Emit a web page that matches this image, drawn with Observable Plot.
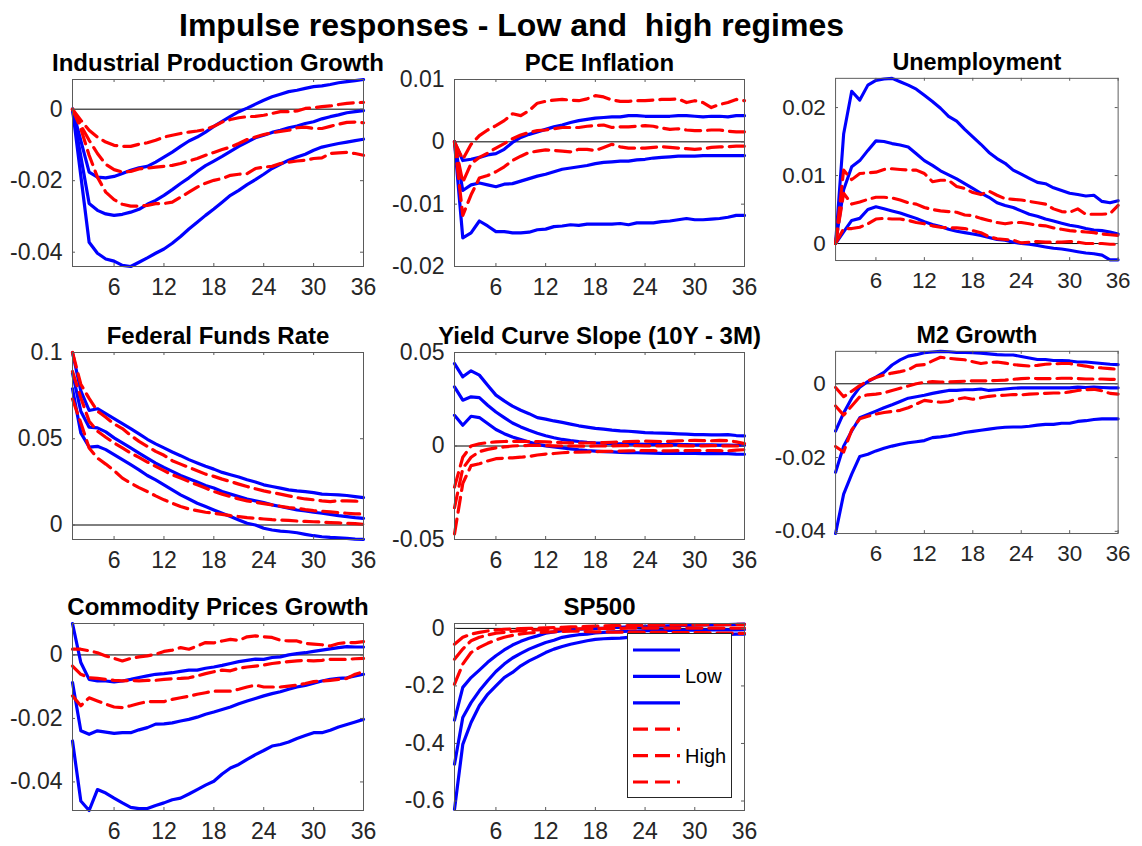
<!DOCTYPE html>
<html>
<head>
<meta charset="utf-8">
<script src="https://cdn.jsdelivr.net/npm/d3@7"></script>
<script src="https://cdn.jsdelivr.net/npm/@observablehq/plot@0.6"></script>
<style>
  html, body { margin: 0; padding: 0; background: #fff; }
  #fig { position: relative; width: 1142px; height: 846px; background: #fff; overflow: hidden;
         font-family: "Liberation Sans", Arial, Helvetica, sans-serif; }
  #title { position: absolute; left: 0; top: 9px; width: 1023px; text-align: center;
           font-weight: bold; font-size: 32px; line-height: 32px; white-space: pre; color: #000; }
  .panel { position: absolute; }
  .panel svg { overflow: visible; }
  #legend { position: absolute; }
</style>
</head>
<body>
<div id="fig"><div id="title">Impulse responses - Low and  high regimes</div></div>
<script>
// Horizon ticks (months after the shock)
const horizonTicks = [6, 12, 18, 24, 30, 36];

// Panel titles
const panelTitles = [
  "Industrial Production Growth", "PCE Inflation", "Unemployment",
  "Federal Funds Rate", "Yield Curve Slope (10Y - 3M)", "M2 Growth",
  "Commodity Prices Growth", "SP500"
];

// Axis limits and tick values per panel
const ipLimits = [-0.044, 0.0083],   ipTicks = [-0.04, -0.02, 0];
const pceLimits = [-0.02, 0.01],     pceTicks = [-0.02, -0.01, 0, 0.01];
const unLimits = [-0.0025, 0.0243],  unTicks = [0, 0.01, 0.02];
const ffrLimits = [-0.0084, 0.1],    ffrTicks = [0, 0.05, 0.1];
const ycLimits = [-0.05, 0.05],      ycTicks = [-0.05, 0, 0.05];
const m2Limits = [-0.0406, 0.0088],  m2Ticks = [-0.04, -0.02, 0];
const cpLimits = [-0.049, 0.0099],   cpTicks = [-0.04, -0.02, 0];
const spLimits = [-0.633, 0.017],    spTicks = [-0.6, -0.4, -0.2, 0];

// Industrial production growth
const ipLowUpper = [0, -0.0088, -0.0176, -0.019, -0.0192, -0.0188, -0.018, -0.0171, -0.0164, -0.016, -0.0148, -0.0134, -0.012, -0.0104, -0.0089, -0.0078, -0.0064, -0.0048, -0.0034, -0.002, -0.0007, 0.0003, 0.0014, 0.0025, 0.0035, 0.0042, 0.0049, 0.0053, 0.0058, 0.0063, 0.0065, 0.0069, 0.0074, 0.0077, 0.008, 0.0083];
const ipLowMid = [0, -0.0132, -0.0264, -0.0283, -0.0293, -0.0297, -0.0294, -0.0288, -0.028, -0.0266, -0.0255, -0.0241, -0.0225, -0.0208, -0.0192, -0.0174, -0.0158, -0.0145, -0.0132, -0.0118, -0.0104, -0.0092, -0.008, -0.0073, -0.0065, -0.0059, -0.0052, -0.0047, -0.004, -0.0035, -0.0027, -0.0021, -0.0016, -0.001, -0.0007, -0.0004];
const ipLowLower = [0, -0.0186, -0.0372, -0.0403, -0.0419, -0.0425, -0.0437, -0.044, -0.0428, -0.0416, -0.0403, -0.0391, -0.0375, -0.0356, -0.0335, -0.0316, -0.0297, -0.0279, -0.026, -0.0241, -0.0227, -0.0211, -0.0197, -0.0182, -0.0166, -0.0154, -0.0143, -0.0134, -0.0126, -0.0115, -0.0106, -0.0101, -0.0096, -0.0092, -0.0088, -0.0084];
const ipHighUpper = [0, -0.0031, -0.0059, -0.0078, -0.0092, -0.0101, -0.0104, -0.0104, -0.0098, -0.0094, -0.0087, -0.0078, -0.0073, -0.0068, -0.0064, -0.0061, -0.0057, -0.0048, -0.0036, -0.0029, -0.0024, -0.0021, -0.002, -0.0017, -0.0012, -0.0007, -0.0007, -0.0005, 0.0002, 0.0004, 0.0007, 0.0009, 0.0013, 0.0016, 0.0018, 0.0019];
const ipHighMid = [0, -0.0045, -0.0087, -0.0124, -0.0154, -0.0169, -0.0176, -0.0174, -0.0167, -0.0165, -0.0162, -0.016, -0.0157, -0.0152, -0.0145, -0.0138, -0.0129, -0.0121, -0.0113, -0.0106, -0.0096, -0.0085, -0.0078, -0.0071, -0.0066, -0.0062, -0.0059, -0.0052, -0.005, -0.0054, -0.0054, -0.0048, -0.0042, -0.0037, -0.0036, -0.0038];
const ipHighLower = [0, -0.0054, -0.0129, -0.019, -0.0232, -0.0253, -0.0266, -0.0271, -0.0271, -0.0269, -0.0264, -0.0264, -0.026, -0.0246, -0.0232, -0.0218, -0.0207, -0.0199, -0.0194, -0.0185, -0.0182, -0.018, -0.0166, -0.0162, -0.016, -0.0152, -0.0148, -0.0145, -0.0143, -0.0138, -0.0136, -0.0124, -0.0122, -0.0121, -0.0124, -0.0129];

// PCE inflation
const pceLowUpper = [0, -0.003, -0.0028, -0.0025, -0.0021, -0.0019, -0.0012, -0.0001, 0.0007, 0.0012, 0.0016, 0.002, 0.0024, 0.0027, 0.0031, 0.0034, 0.0036, 0.0038, 0.0039, 0.004, 0.004, 0.0042, 0.0042, 0.0041, 0.0041, 0.0041, 0.0041, 0.0042, 0.0042, 0.0041, 0.004, 0.0041, 0.0041, 0.004, 0.0042, 0.0042];
const pceLowMid = [0, -0.0078, -0.0069, -0.0066, -0.0069, -0.0072, -0.0068, -0.0067, -0.0063, -0.0059, -0.0055, -0.0052, -0.0048, -0.0044, -0.0042, -0.004, -0.0038, -0.0035, -0.0033, -0.0032, -0.0031, -0.0031, -0.0029, -0.0028, -0.0026, -0.0025, -0.0024, -0.0023, -0.0023, -0.0023, -0.0022, -0.0022, -0.0022, -0.0022, -0.0022, -0.0022];
const pceLowLower = [0, -0.0154, -0.0146, -0.0127, -0.0135, -0.0144, -0.0144, -0.0146, -0.0146, -0.0145, -0.0141, -0.014, -0.0136, -0.0135, -0.0133, -0.0134, -0.0132, -0.0132, -0.0132, -0.0132, -0.0131, -0.0133, -0.013, -0.013, -0.013, -0.0128, -0.0127, -0.0125, -0.0123, -0.0125, -0.0125, -0.0124, -0.0123, -0.0121, -0.0118, -0.0118];
const pceHighUpper = [0, -0.0028, -0.0004, 0.001, 0.0019, 0.0026, 0.0034, 0.0045, 0.0042, 0.005, 0.0062, 0.0065, 0.0067, 0.0068, 0.0067, 0.0066, 0.0069, 0.0074, 0.0072, 0.0067, 0.0065, 0.0065, 0.0066, 0.0066, 0.0067, 0.0068, 0.0068, 0.0069, 0.0063, 0.0066, 0.0063, 0.0055, 0.006, 0.0063, 0.0068, 0.0066];
const pceHighMid = [0, -0.0065, -0.0035, -0.0025, -0.0018, -0.001, -0.0003, 0.0005, 0.0011, 0.0015, 0.0018, 0.0019, 0.0021, 0.0023, 0.0023, 0.0023, 0.0025, 0.0026, 0.0027, 0.0023, 0.0024, 0.0024, 0.0025, 0.0026, 0.0025, 0.0022, 0.002, 0.0021, 0.0019, 0.0018, 0.0018, 0.0019, 0.0019, 0.0017, 0.0016, 0.0016];
const pceHighLower = [0, -0.0118, -0.0085, -0.0058, -0.0054, -0.0048, -0.004, -0.003, -0.0023, -0.0017, -0.0015, -0.0013, -0.0014, -0.0015, -0.0016, -0.0012, -0.0012, -0.0014, -0.0009, -0.0004, -0.0008, -0.001, -0.001, -0.001, -0.0009, -0.0008, -0.0009, -0.001, -0.0011, -0.0012, -0.0011, -0.0009, -0.0008, -0.0008, -0.0007, -0.0007];

// Unemployment
const unLowUpper = [0, 0.0161, 0.0224, 0.0211, 0.0233, 0.024, 0.0242, 0.0243, 0.0238, 0.0233, 0.0227, 0.0218, 0.0209, 0.0199, 0.0187, 0.018, 0.0168, 0.0157, 0.0146, 0.0134, 0.0125, 0.0118, 0.0108, 0.0102, 0.0096, 0.009, 0.0088, 0.0082, 0.0078, 0.0074, 0.0072, 0.007, 0.0071, 0.0062, 0.006, 0.0063];
const unLowMid = [0, 0.0079, 0.0113, 0.0122, 0.0137, 0.0151, 0.015, 0.0147, 0.0145, 0.0142, 0.0132, 0.0122, 0.0115, 0.0107, 0.0101, 0.0095, 0.0088, 0.0081, 0.0074, 0.0068, 0.006, 0.0056, 0.0053, 0.0048, 0.0043, 0.004, 0.0036, 0.0033, 0.003, 0.0027, 0.0025, 0.0022, 0.002, 0.0019, 0.0017, 0.0014];
const unLowLower = [0, 0.0017, 0.0034, 0.0037, 0.005, 0.0054, 0.0051, 0.0048, 0.0045, 0.0041, 0.0037, 0.0032, 0.0028, 0.0025, 0.0021, 0.0018, 0.0016, 0.0014, 0.0012, 0.0009, 0.0006, 0.0005, 0.0002, 0, -0.0001, -0.0003, -0.0005, -0.0007, -0.0008, -0.001, -0.0012, -0.0014, -0.0015, -0.0017, -0.0024, -0.0024];
const unHighUpper = [0, 0.0108, 0.0094, 0.0103, 0.0104, 0.0105, 0.0109, 0.011, 0.0109, 0.0108, 0.0108, 0.0103, 0.0091, 0.0093, 0.0093, 0.0084, 0.0081, 0.0075, 0.0072, 0.0077, 0.0071, 0.0066, 0.0065, 0.0064, 0.0062, 0.006, 0.0058, 0.0051, 0.0047, 0.0046, 0.0051, 0.0043, 0.0043, 0.0043, 0.0044, 0.0056];
const unHighMid = [0, 0.0074, 0.0058, 0.0061, 0.0065, 0.0068, 0.0068, 0.0067, 0.0064, 0.006, 0.0058, 0.0053, 0.005, 0.0048, 0.0047, 0.0046, 0.0042, 0.0041, 0.0037, 0.0034, 0.0031, 0.0029, 0.0031, 0.0031, 0.0029, 0.0027, 0.0026, 0.0023, 0.0021, 0.0019, 0.0018, 0.0017, 0.0016, 0.0014, 0.0013, 0.0012];
const unHighLower = [0, 0.0022, 0.0022, 0.0024, 0.0029, 0.0036, 0.0037, 0.0036, 0.0036, 0.0034, 0.0031, 0.0029, 0.0026, 0.0024, 0.0023, 0.0023, 0.0022, 0.0019, 0.0016, 0.001, 0.0007, 0.0006, 0.0005, 0.0001, 0.0002, 0.0003, 0.0002, 0.0002, 0.0002, 0.0003, 0.0002, 0, 0, 0, -0.0001, -0.0001];

// Federal funds rate
const ffrLowUpper = [0.1, 0.0777, 0.0664, 0.0674, 0.0645, 0.0617, 0.0588, 0.0559, 0.0528, 0.0497, 0.047, 0.0447, 0.0423, 0.0402, 0.0379, 0.0359, 0.034, 0.0324, 0.0305, 0.0291, 0.0278, 0.0262, 0.0249, 0.0233, 0.0223, 0.0214, 0.0204, 0.0198, 0.0194, 0.0188, 0.0179, 0.0177, 0.0175, 0.0171, 0.0165, 0.0159];
const ffrLowMid = [0.088, 0.066, 0.0567, 0.0563, 0.054, 0.0505, 0.0476, 0.0447, 0.0417, 0.0388, 0.0359, 0.0334, 0.0311, 0.0287, 0.0268, 0.0249, 0.0229, 0.0214, 0.0194, 0.0179, 0.0165, 0.0151, 0.014, 0.013, 0.0117, 0.0107, 0.0097, 0.0087, 0.0082, 0.0074, 0.0068, 0.0062, 0.0054, 0.0049, 0.0043, 0.0039];
const ffrLowLower = [0.079, 0.0534, 0.0452, 0.0456, 0.0437, 0.0408, 0.0379, 0.035, 0.032, 0.0287, 0.0262, 0.0233, 0.0204, 0.0175, 0.0151, 0.0126, 0.0107, 0.0087, 0.0068, 0.0049, 0.0029, 0.001, 0, -0.0019, -0.0029, -0.0035, -0.0039, -0.0045, -0.0054, -0.0062, -0.0068, -0.0072, -0.0074, -0.0078, -0.0082, -0.0083];
const ffrHighUpper = [0.1, 0.0816, 0.0734, 0.066, 0.0625, 0.0586, 0.0559, 0.052, 0.0485, 0.0456, 0.0427, 0.0404, 0.0373, 0.0353, 0.0334, 0.0315, 0.0295, 0.0282, 0.0266, 0.0252, 0.0237, 0.0223, 0.021, 0.0198, 0.0188, 0.0179, 0.0169, 0.0159, 0.0151, 0.0146, 0.014, 0.0136, 0.014, 0.014, 0.0138, 0.0136];
const ffrHighMid = [0.089, 0.0738, 0.0602, 0.0544, 0.0509, 0.0476, 0.0447, 0.0417, 0.0392, 0.0365, 0.034, 0.0315, 0.0291, 0.0272, 0.0252, 0.0233, 0.0214, 0.0194, 0.0179, 0.0165, 0.0151, 0.014, 0.0132, 0.0124, 0.0117, 0.0109, 0.0101, 0.0097, 0.0089, 0.0083, 0.008, 0.0076, 0.0072, 0.0068, 0.0064, 0.0064];
const ffrHighLower = [0.073, 0.0592, 0.0447, 0.0388, 0.0353, 0.0315, 0.0272, 0.0243, 0.0217, 0.0194, 0.0169, 0.0146, 0.0126, 0.0107, 0.0093, 0.0083, 0.0074, 0.0068, 0.0062, 0.0054, 0.0049, 0.0043, 0.0039, 0.0035, 0.0031, 0.0029, 0.0027, 0.0023, 0.0021, 0.0019, 0.0017, 0.0014, 0.0012, 0.001, 0.0008, 0.0004];

// Yield curve slope (10Y - 3M)
const ycLowUpper = [0.0441, 0.037, 0.0402, 0.0379, 0.0325, 0.0272, 0.0241, 0.0213, 0.0191, 0.0173, 0.0152, 0.0144, 0.0134, 0.0126, 0.0117, 0.0108, 0.0101, 0.0094, 0.009, 0.0085, 0.0081, 0.0079, 0.0076, 0.0072, 0.007, 0.0069, 0.0067, 0.0065, 0.0063, 0.0061, 0.0061, 0.006, 0.006, 0.0061, 0.0056, 0.0054];
const ycLowMid = [0.0316, 0.0245, 0.0263, 0.0259, 0.0218, 0.0182, 0.0152, 0.0123, 0.0102, 0.0084, 0.0068, 0.0055, 0.0044, 0.0035, 0.0029, 0.0024, 0.002, 0.0017, 0.0015, 0.0013, 0.0012, 0.0011, 0.001, 0.0009, 0.0008, 0.0008, 0.0007, 0.0007, 0.0007, 0.0006, 0.0006, 0.0006, 0.0005, 0.0005, 0.0004, 0.0004];
const ycLowLower = [0.0164, 0.0111, 0.0159, 0.0152, 0.012, 0.0088, 0.0066, 0.0048, 0.0034, 0.0021, 0.0009, 0.0001, -0.0005, -0.001, -0.0015, -0.002, -0.0024, -0.0027, -0.003, -0.0031, -0.0034, -0.0035, -0.0036, -0.0037, -0.0038, -0.0039, -0.0038, -0.0039, -0.004, -0.004, -0.0041, -0.0041, -0.0041, -0.0041, -0.0043, -0.0044];
const ycHighUpper = [-0.022, -0.006, 0, 0.0012, 0.0018, 0.0022, 0.0024, 0.0025, 0.0025, 0.0024, 0.0023, 0.0022, 0.002, 0.0018, 0.0017, 0.0016, 0.0016, 0.0017, 0.0018, 0.002, 0.0022, 0.0024, 0.0025, 0.0026, 0.0025, 0.0024, 0.0025, 0.0027, 0.0029, 0.003, 0.0029, 0.0028, 0.003, 0.0029, 0.0022, 0.0013];
const ycHighMid = [-0.033, -0.012, -0.006, -0.003, -0.0018, -0.001, -0.0005, 0, 0.0002, 0.0003, 0.0003, 0.0002, 0.0001, 0, 0, -0.0001, -0.0001, 0, 0.0001, 0.0001, 0.0002, 0.0002, 0.0002, 0.0001, 0.0001, 0.0001, 0.0002, 0.0002, 0.0001, 0.0001, 0.0001, 0.0002, 0.0001, 0.0001, 0, 0];
const ycHighLower = [-0.047, -0.02, -0.0105, -0.0095, -0.008, -0.0068, -0.0065, -0.0063, -0.006, -0.0056, -0.0048, -0.0043, -0.004, -0.0036, -0.0034, -0.0033, -0.0032, -0.003, -0.0029, -0.0028, -0.0027, -0.0026, -0.0025, -0.0025, -0.0025, -0.0026, -0.0026, -0.0025, -0.0025, -0.0024, -0.0024, -0.0024, -0.0025, -0.0026, -0.0022, -0.002];

// M2 growth
const m2LowUpper = [-0.0128, -0.0079, -0.0039, -0.0009, 0.0006, 0.0018, 0.0031, 0.0051, 0.0065, 0.0075, 0.0079, 0.0084, 0.0086, 0.0088, 0.0087, 0.0085, 0.0085, 0.0084, 0.0083, 0.0081, 0.0079, 0.0078, 0.0078, 0.0074, 0.007, 0.0066, 0.0066, 0.0063, 0.0063, 0.0062, 0.0059, 0.0059, 0.0057, 0.0055, 0.0053, 0.0052];
const m2LowMid = [-0.024, -0.0169, -0.0128, -0.0092, -0.0083, -0.0074, -0.0065, -0.0057, -0.0048, -0.0039, -0.0035, -0.0031, -0.0026, -0.0022, -0.0018, -0.0018, -0.0016, -0.0016, -0.0014, -0.0018, -0.0016, -0.0014, -0.0012, -0.0011, -0.0011, -0.0011, -0.0011, -0.0011, -0.0011, -0.0011, -0.0009, -0.001, -0.0009, -0.001, -0.0011, -0.0011];
const m2LowLower = [-0.0406, -0.0299, -0.0245, -0.0197, -0.0191, -0.0182, -0.0175, -0.0169, -0.0164, -0.016, -0.0157, -0.0154, -0.0146, -0.0144, -0.0141, -0.0137, -0.0132, -0.0129, -0.0126, -0.0123, -0.012, -0.0118, -0.0117, -0.0117, -0.0115, -0.0112, -0.011, -0.011, -0.0107, -0.0107, -0.0102, -0.01, -0.0097, -0.0095, -0.0095, -0.0095];
const m2HighUpper = [-0.001, -0.0035, -0.002, -0.0005, 0.0008, 0.0017, 0.0024, 0.0029, 0.0033, 0.0038, 0.005, 0.0052, 0.0062, 0.0072, 0.0069, 0.0067, 0.0065, 0.006, 0.0055, 0.0058, 0.0059, 0.0056, 0.0052, 0.005, 0.0048, 0.005, 0.0053, 0.0054, 0.0055, 0.0055, 0.0051, 0.0048, 0.0044, 0.0043, 0.0041, 0.0039];
const m2HighMid = [-0.006, -0.0085, -0.006, -0.0035, -0.003, -0.0028, -0.0025, -0.0018, -0.0012, -0.0006, 0, 0.0004, 0.0006, 0.0005, 0.0005, 0.0006, 0.0007, 0.0008, 0.0008, 0.0008, 0.0009, 0.001, 0.0012, 0.0014, 0.0015, 0.0014, 0.0014, 0.0014, 0.0015, 0.0015, 0.0014, 0.0013, 0.0013, 0.0013, 0.0012, 0.0012];
const m2HighLower = [-0.017, -0.0185, -0.0125, -0.0095, -0.0088, -0.0082, -0.0078, -0.0075, -0.0072, -0.0065, -0.0055, -0.0045, -0.0048, -0.005, -0.0048, -0.0042, -0.0038, -0.0042, -0.0038, -0.0034, -0.0032, -0.0031, -0.0029, -0.003, -0.0028, -0.0027, -0.0026, -0.0025, -0.0025, -0.0022, -0.0018, -0.0016, -0.0015, -0.0019, -0.0026, -0.0028];

// Commodity prices growth
const cpLowUpper = [0.0099, -0.0024, -0.0077, -0.0082, -0.0082, -0.0085, -0.0082, -0.0077, -0.0071, -0.0066, -0.0061, -0.0059, -0.0056, -0.0052, -0.0048, -0.0048, -0.0042, -0.0038, -0.0033, -0.0027, -0.0021, -0.0017, -0.0013, -0.0014, -0.0008, -0.0006, 0, 0.0004, 0.0007, 0.0011, 0.0015, 0.0019, 0.0023, 0.0026, 0.0025, 0.0025];
const cpLowMid = [-0.0087, -0.0239, -0.025, -0.0239, -0.0243, -0.0247, -0.0245, -0.0245, -0.0236, -0.0229, -0.0218, -0.0217, -0.0214, -0.0208, -0.0203, -0.0196, -0.0187, -0.018, -0.0172, -0.0164, -0.0154, -0.0145, -0.0137, -0.0129, -0.0122, -0.0116, -0.0108, -0.0101, -0.0096, -0.0089, -0.0082, -0.0077, -0.0074, -0.0072, -0.0066, -0.0061];
const cpLowLower = [-0.0271, -0.046, -0.049, -0.0424, -0.0435, -0.0451, -0.0466, -0.048, -0.0484, -0.0484, -0.0474, -0.0466, -0.0456, -0.0451, -0.0438, -0.0424, -0.041, -0.0398, -0.0375, -0.0356, -0.0345, -0.0329, -0.0314, -0.0301, -0.0287, -0.0282, -0.0274, -0.0263, -0.0254, -0.0245, -0.0245, -0.0237, -0.0227, -0.0219, -0.0211, -0.0203];
const cpHighUpper = [0.0018, 0.0018, 0.0013, 0.0007, -0.0003, -0.0011, -0.0019, -0.0011, -0.0006, -0.0003, 0.0002, 0.0011, 0.0015, 0.0023, 0.0018, 0.0028, 0.0039, 0.0038, 0.0044, 0.0049, 0.0046, 0.0057, 0.006, 0.0057, 0.0055, 0.0046, 0.0044, 0.0044, 0.0036, 0.0034, 0.0032, 0.0028, 0.0036, 0.0039, 0.0039, 0.0042];
const cpHighMid = [-0.0035, -0.0061, -0.0072, -0.0074, -0.0077, -0.008, -0.0082, -0.008, -0.0082, -0.008, -0.008, -0.0077, -0.0075, -0.0074, -0.0072, -0.0066, -0.0059, -0.0053, -0.0048, -0.005, -0.0042, -0.0038, -0.0035, -0.0032, -0.0027, -0.0024, -0.0021, -0.0019, -0.0017, -0.0019, -0.0017, -0.0014, -0.0014, -0.0014, -0.0012, -0.0011];
const cpHighLower = [-0.0129, -0.016, -0.0135, -0.0145, -0.0155, -0.0164, -0.0166, -0.016, -0.0153, -0.0147, -0.0147, -0.0147, -0.014, -0.0135, -0.013, -0.0124, -0.0119, -0.0114, -0.0114, -0.0114, -0.0108, -0.0101, -0.0095, -0.0101, -0.0101, -0.0101, -0.0098, -0.0095, -0.009, -0.0084, -0.0082, -0.008, -0.0077, -0.0074, -0.0061, -0.0053];

// SP500
const spLowUpper = [-0.319, -0.205, -0.171, -0.145, -0.118, -0.095, -0.075, -0.058, -0.045, -0.034, -0.026, -0.017, -0.012, -0.008, -0.006, -0.003, -0.002, 0, 0.001, 0.003, 0.004, 0.005, 0.006, 0.007, 0.008, 0.008, 0.009, 0.01, 0.01, 0.011, 0.012, 0.012, 0.013, 0.013, 0.014, 0.015];
const spLowMid = [-0.472, -0.31, -0.258, -0.217, -0.182, -0.15, -0.124, -0.103, -0.087, -0.072, -0.06, -0.049, -0.041, -0.031, -0.026, -0.022, -0.02, -0.016, -0.014, -0.012, -0.011, -0.01, -0.009, -0.008, -0.008, -0.007, -0.007, -0.007, -0.006, -0.006, -0.006, -0.005, -0.005, -0.005, -0.005, -0.004];
const spLowLower = [-0.629, -0.403, -0.327, -0.269, -0.229, -0.2, -0.171, -0.153, -0.13, -0.113, -0.099, -0.084, -0.072, -0.063, -0.055, -0.049, -0.043, -0.038, -0.036, -0.035, -0.034, -0.031, -0.029, -0.028, -0.027, -0.026, -0.025, -0.024, -0.023, -0.023, -0.022, -0.022, -0.021, -0.021, -0.02, -0.02];
const spHighUpper = [-0.055, -0.031, -0.02, -0.014, -0.009, -0.006, -0.003, -0.002, -0.001, 0, 0.001, 0.002, 0.003, 0.004, 0.005, 0.006, 0.007, 0.008, 0.009, 0.01, 0.01, 0.01, 0.01, 0.011, 0.011, 0.011, 0.011, 0.012, 0.012, 0.012, 0.012, 0.013, 0.013, 0.013, 0.014, 0.014];
const spHighMid = [-0.107, -0.072, -0.043, -0.031, -0.023, -0.017, -0.014, -0.01, -0.008, -0.006, -0.005, -0.004, -0.003, -0.003, -0.002, -0.002, -0.001, -0.001, 0, 0, 0, 0.001, 0.001, 0.001, 0.001, 0.001, 0.001, 0.001, 0.001, 0.001, 0.001, 0.001, 0.001, 0.001, 0.001, 0.001];
const spHighLower = [-0.194, -0.124, -0.084, -0.066, -0.052, -0.04, -0.031, -0.024, -0.019, -0.016, -0.014, -0.013, -0.012, -0.011, -0.01, -0.01, -0.011, -0.012, -0.012, -0.013, -0.013, -0.013, -0.013, -0.014, -0.014, -0.014, -0.014, -0.015, -0.015, -0.015, -0.015, -0.016, -0.016, -0.016, -0.017, -0.017];

// Legend entries
const legendLabels = ["", "Low", "", "", "High", ""];
const legendRegimes = ["Low", "Low", "Low", "High", "High", "High"];

// Styling
const lowColor = "#0000ff";
const highColor = "#ff0000";
const highDash = "15,7";
const boxColor = "#5a5a5a";
const textColor = "#262626";
const tickFont = '"Liberation Sans", Arial, Helvetica, sans-serif';

// Grid of axes boxes (pixels within the figure)
const colLeft = [72, 454, 837];
const colWidth = [291, 290, 290];
const rowTop = [79, 352, 623];
const axHeight = 187;

const panels = [
  {title: panelTitles[0], limits: ipLimits, ticks: ipTicks, low: [ipLowUpper, ipLowMid, ipLowLower], high: [ipHighUpper, ipHighMid, ipHighLower]},
  {title: panelTitles[1], limits: pceLimits, ticks: pceTicks, low: [pceLowUpper, pceLowMid, pceLowLower], high: [pceHighUpper, pceHighMid, pceHighLower]},
  {title: panelTitles[2], limits: unLimits, ticks: unTicks, low: [unLowUpper, unLowMid, unLowLower], high: [unHighUpper, unHighMid, unHighLower]},
  {title: panelTitles[3], limits: ffrLimits, ticks: ffrTicks, low: [ffrLowUpper, ffrLowMid, ffrLowLower], high: [ffrHighUpper, ffrHighMid, ffrHighLower]},
  {title: panelTitles[4], limits: ycLimits, ticks: ycTicks, low: [ycLowUpper, ycLowMid, ycLowLower], high: [ycHighUpper, ycHighMid, ycHighLower]},
  {title: panelTitles[5], limits: m2Limits, ticks: m2Ticks, low: [m2LowUpper, m2LowMid, m2LowLower], high: [m2HighUpper, m2HighMid, m2HighLower]},
  {title: panelTitles[6], limits: cpLimits, ticks: cpTicks, low: [cpLowUpper, cpLowMid, cpLowLower], high: [cpHighUpper, cpHighMid, cpHighLower]},
  {title: panelTitles[7], limits: spLimits, ticks: spTicks, low: [spLowUpper, spLowMid, spLowLower], high: [spHighUpper, spHighMid, spHighLower]}
];

const fmt = d => (d === 0 ? "0" : String(d));
const fig = document.getElementById("fig");
const m = {left: 75, right: 25, top: 45, bottom: 40};

panels.forEach((p, k) => {
  const col = k % 3, row = Math.floor(k / 3);
  const W = colWidth[col], H = axHeight;
  const horizon = (d, i) => i + 1;
  const chart = Plot.plot({
    width: W + m.left + m.right,
    height: H + m.top + m.bottom,
    marginLeft: m.left, marginRight: m.right, marginTop: m.top, marginBottom: m.bottom,
    style: {fontFamily: tickFont, fontSize: "23px", color: textColor, background: "transparent", overflow: "visible"},
    x: {domain: [1, 36], ticks: horizonTicks, tickSize: 0, tickPadding: 12, tickFormat: d => String(d), label: null},
    y: {domain: p.limits, ticks: p.ticks, tickSize: 0, tickPadding: 10, tickFormat: fmt, label: null},
    marks: [
      Plot.ruleY([0], {stroke: "#000", strokeWidth: 1}),
      ...p.low.map(v => Plot.line(v, {x: horizon, y: d => d, stroke: lowColor, strokeWidth: 3.2})),
      ...p.high.map(v => Plot.line(v, {x: horizon, y: d => d, stroke: highColor, strokeWidth: 3.2, strokeDasharray: highDash})),
      Plot.frame({stroke: boxColor, strokeWidth: 1}),
      Plot.tickX(horizonTicks, {x: d => d, stroke: boxColor, insetTop: H - 3}),
      Plot.tickX(horizonTicks, {x: d => d, stroke: boxColor, insetBottom: H - 3}),
      Plot.tickY(p.ticks, {y: d => d, stroke: boxColor, insetRight: W - 3}),
      Plot.tickY(p.ticks, {y: d => d, stroke: boxColor, insetLeft: W - 3}),
      Plot.text([p.title], {text: d => d, frameAnchor: "top", dy: -9, lineAnchor: "bottom",
                            fontSize: 24, fontWeight: "bold", fill: "#000"})
    ]
  });
  const holder = document.createElement("div");
  holder.className = "panel";
  holder.style.left = (colLeft[col] - m.left) + "px";
  holder.style.top = (rowTop[row] - m.top) + "px";
  holder.appendChild(chart);
  fig.appendChild(holder);
});

// Legend in the SP500 axes
const lg = d3.select(fig).append("svg")
  .attr("id", "legend")
  .attr("width", 106).attr("height", 166)
  .style("left", "627px").style("top", "633px");
lg.append("rect").attr("x", 0.5).attr("y", 0.5).attr("width", 104).attr("height", 164)
  .attr("fill", "#fff").attr("stroke", textColor);
legendLabels.forEach((label, i) => {
  const y = 17 + i * 26.4;
  const isLow = legendRegimes[i] === "Low";
  lg.append("line").attr("x1", 6).attr("x2", 53).attr("y1", y).attr("y2", y)
    .attr("stroke", isLow ? lowColor : highColor).attr("stroke-width", 3.2)
    .attr("stroke-dasharray", isLow ? null : highDash);
  if (label) {
    lg.append("text").attr("x", 58).attr("y", y + 7).text(label)
      .attr("font-family", tickFont).attr("font-size", 20).attr("fill", "#000");
  }
});
</script>
</body>
</html>
